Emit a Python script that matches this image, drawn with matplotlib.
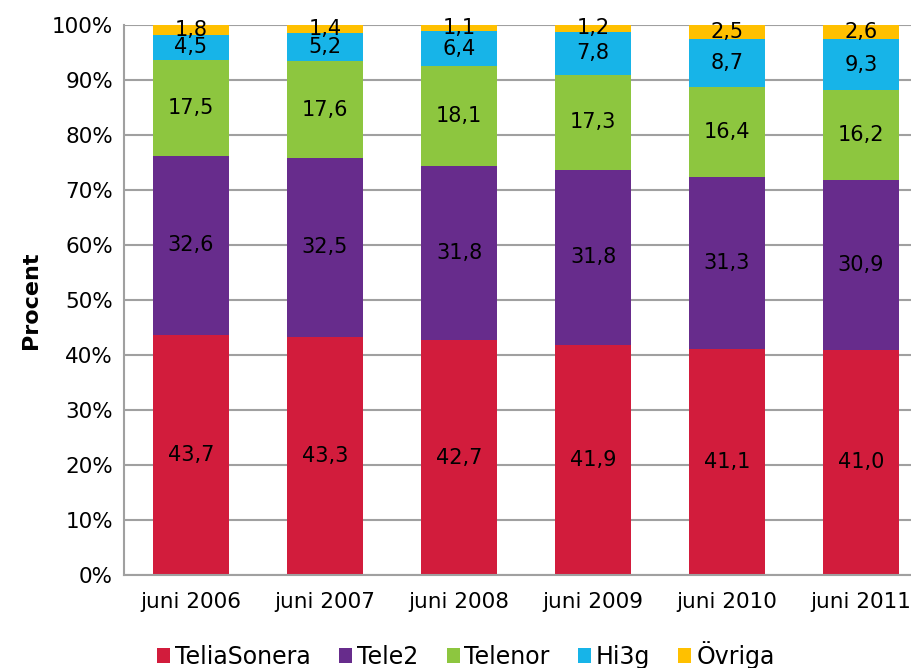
import matplotlib.pyplot as plt
import numpy as np

# marknadsandelar, procent
år = ['juni 2006', 'juni 2007', 'juni 2008', 'juni 2009', 'juni 2010', 'juni 2011']
teliasonera = [43.7, 43.3, 42.7, 41.9, 41.1, 41.0]
tele2 = [32.6, 32.5, 31.8, 31.8, 31.3, 30.9]
telenor = [17.5, 17.6, 18.1, 17.3, 16.4, 16.2]
hi3g = [4.5, 5.2, 6.4, 7.8, 8.7, 9.3]
ovriga = [1.8, 1.4, 1.1, 1.2, 2.5, 2.6]

serier = [('TeliaSonera', teliasonera, '#D21C3C'),
          ('Tele2', tele2, '#672C8C'),
          ('Telenor', telenor, '#8DC63F'),
          ('Hi3g', hi3g, '#17B4E8'),
          ('Övriga', ovriga, '#FFC000')]

plt.rcParams['font.family'] = ['DejaVu Sans']

fig = plt.figure(figsize=(9.11, 6.68), dpi=100)
ax = fig.add_axes([124/911, 1 - 575/668, 804/911, 550/668])

summa = np.sum([s[1] for s in serier], axis=0)
x = np.arange(len(år))
botten = np.zeros(len(år))
for namn, v, färg in serier:
    h = np.array(v) / summa * 100
    ax.bar(x, h, 0.567, bottom=botten, color=färg, label=namn, zorder=2)
    for xi, b, hi, txt in zip(x, botten, h, v):
        ax.text(xi, b + hi / 2, f'{txt:.1f}'.replace('.', ','),
                ha='center', va='center', fontsize=15, color='black', zorder=3)
    botten += h

ax.set_xlim(-0.5, len(år) - 0.5)
ax.set_ylim(0, 100)
ax.set_yticks(np.arange(0, 101, 10))
ax.set_yticklabels([f'{t}%' for t in range(0, 101, 10)], fontsize=15.5)
ax.set_xticks(x)
ax.set_xticklabels(år, fontsize=15.5)
ax.tick_params(axis='x', length=0, pad=12)
ax.tick_params(axis='y', length=0, pad=8)
ax.yaxis.grid(True, color='#A0A0A0', linewidth=1.5, zorder=0)
for s in ['top', 'right']:
    ax.spines[s].set_visible(False)
for s in ['left', 'bottom']:
    ax.spines[s].set_color('#A0A0A0')
    ax.spines[s].set_linewidth(1.5)
ax.set_ylabel('Procent', fontsize=16, fontweight='bold', labelpad=8)

fig.legend(loc='center', bbox_to_anchor=(466/911, 1 - 655/668), ncol=5, frameon=False,
           fontsize=17, handlelength=0.55, handleheight=0.55, handletextpad=0.2,
           columnspacing=1.2, borderpad=0)

fig.savefig('out.png', dpi=100)
